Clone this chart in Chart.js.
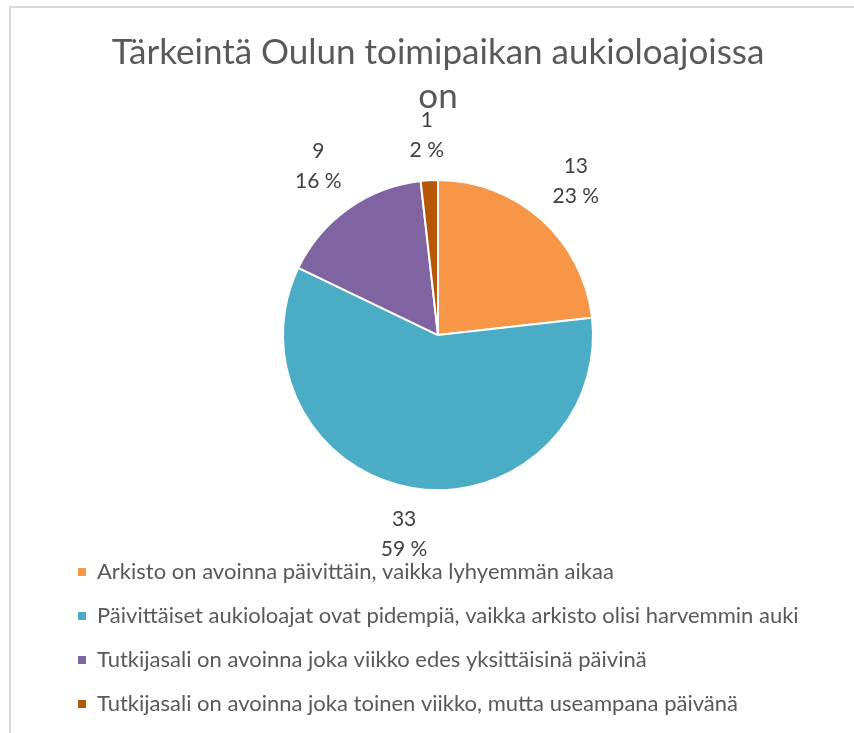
<!DOCTYPE html>
<html>
<head>
<meta charset="utf-8">
<script src="https://cdn.jsdelivr.net/npm/chart.js@4.4.0/dist/chart.umd.min.js"></script>
<style>
  html, body { margin: 0; padding: 0; background: #fff; }
  #wrap { position: relative; width: 854px; height: 733px; }
  #frame {
    position: absolute; left: 9px; top: 6px; right: 0; bottom: 0;
    border-top: 2px solid #d9d9d9; border-left: 2px solid #d9d9d9;
    pointer-events: none;
  }
  canvas { position: absolute; left: 0; top: 0; }
</style>
</head>
<body>
<div id="wrap">
  <canvas id="pieChart" width="854" height="733"></canvas>
  <div id="frame"></div>
</div>
<script>
const titleLines = ["Tärkeintä Oulun toimipaikan aukioloajoissa", "on"];
const categories = [
  "Arkisto on avoinna päivittäin, vaikka lyhyemmän aikaa",
  "Päivittäiset aukioloajat ovat pidempiä, vaikka arkisto olisi harvemmin auki",
  "Tutkijasali on avoinna joka viikko edes yksittäisinä päivinä",
  "Tutkijasali on avoinna joka toinen viikko, mutta useampana päivänä"
];
const counts = [13, 33, 9, 1];
const colors = ["#F79646", "#4BACC6", "#8064A2", "#B65708"];

const FONT = "Lato, 'Open Sans', sans-serif";

// value + percentage labels outside each slice
const outsideLabels = {
  id: "outsideLabels",
  afterDatasetsDraw(chart) {
    const ctx = chart.ctx;
    const meta = chart.getDatasetMeta(0);
    const data = chart.data.datasets[0].data;
    const sum = data.reduce((a, b) => a + b, 0);
    ctx.save();
    ctx.font = "21px " + FONT;
    ctx.fillStyle = "#404040";
    ctx.textAlign = "center";
    ctx.textBaseline = "middle";
    meta.data.forEach((arc, i) => {
      const p = arc.getProps(["x", "y", "startAngle", "endAngle", "outerRadius"], true);
      const mid = (p.startAngle + p.endAngle) / 2;
      const lines = [String(data[i]), Math.round(data[i] * 100 / sum) + " %"];
      const w = Math.max(...lines.map(t => ctx.measureText(t).width));
      const hw = w / 2, hh = 30;
      const dist = p.outerRadius + 14 + Math.abs(Math.cos(mid)) * hw + Math.abs(Math.sin(mid)) * hh;
      const cx = p.x + Math.cos(mid) * dist;
      const cy = p.y + Math.sin(mid) * dist;
      ctx.fillText(lines[0], cx, cy - 15);
      ctx.fillText(lines[1], cx, cy + 15);
    });
    ctx.restore();
  }
};

const ctxP = document.getElementById("pieChart").getContext("2d");
const defaultLabels = Chart.overrides.pie.plugins.legend.labels.generateLabels;

new Chart(ctxP, {
  type: "pie",
  plugins: [outsideLabels],
  data: {
    labels: categories,
    datasets: [{
      data: counts,
      backgroundColor: colors,
      borderColor: "#ffffff",
      borderWidth: 2,
      radius: 155
    }]
  },
  options: {
    responsive: false,
    animation: false,
    layout: { padding: { left: 56, right: 34, top: 14, bottom: 8 } },
    plugins: {
      tooltip: { enabled: false },
      title: {
        display: true,
        text: titleLines,
        color: "#595959",
        font: { family: FONT, size: 35, weight: "normal", lineHeight: 1.26 },
        padding: { top: 17, bottom: 12 }
      },
      legend: {
        position: "bottom",
        align: "start",
        labels: {
          boxWidth: 8,
          boxHeight: 8,
          padding: 22,
          color: "#595959",
          font: { family: FONT, size: 22 },
          generateLabels(chart) {
            return defaultLabels(chart).map(l => Object.assign(l, { lineWidth: 0 }));
          }
        }
      }
    }
  }
});
</script>
</body>
</html>
